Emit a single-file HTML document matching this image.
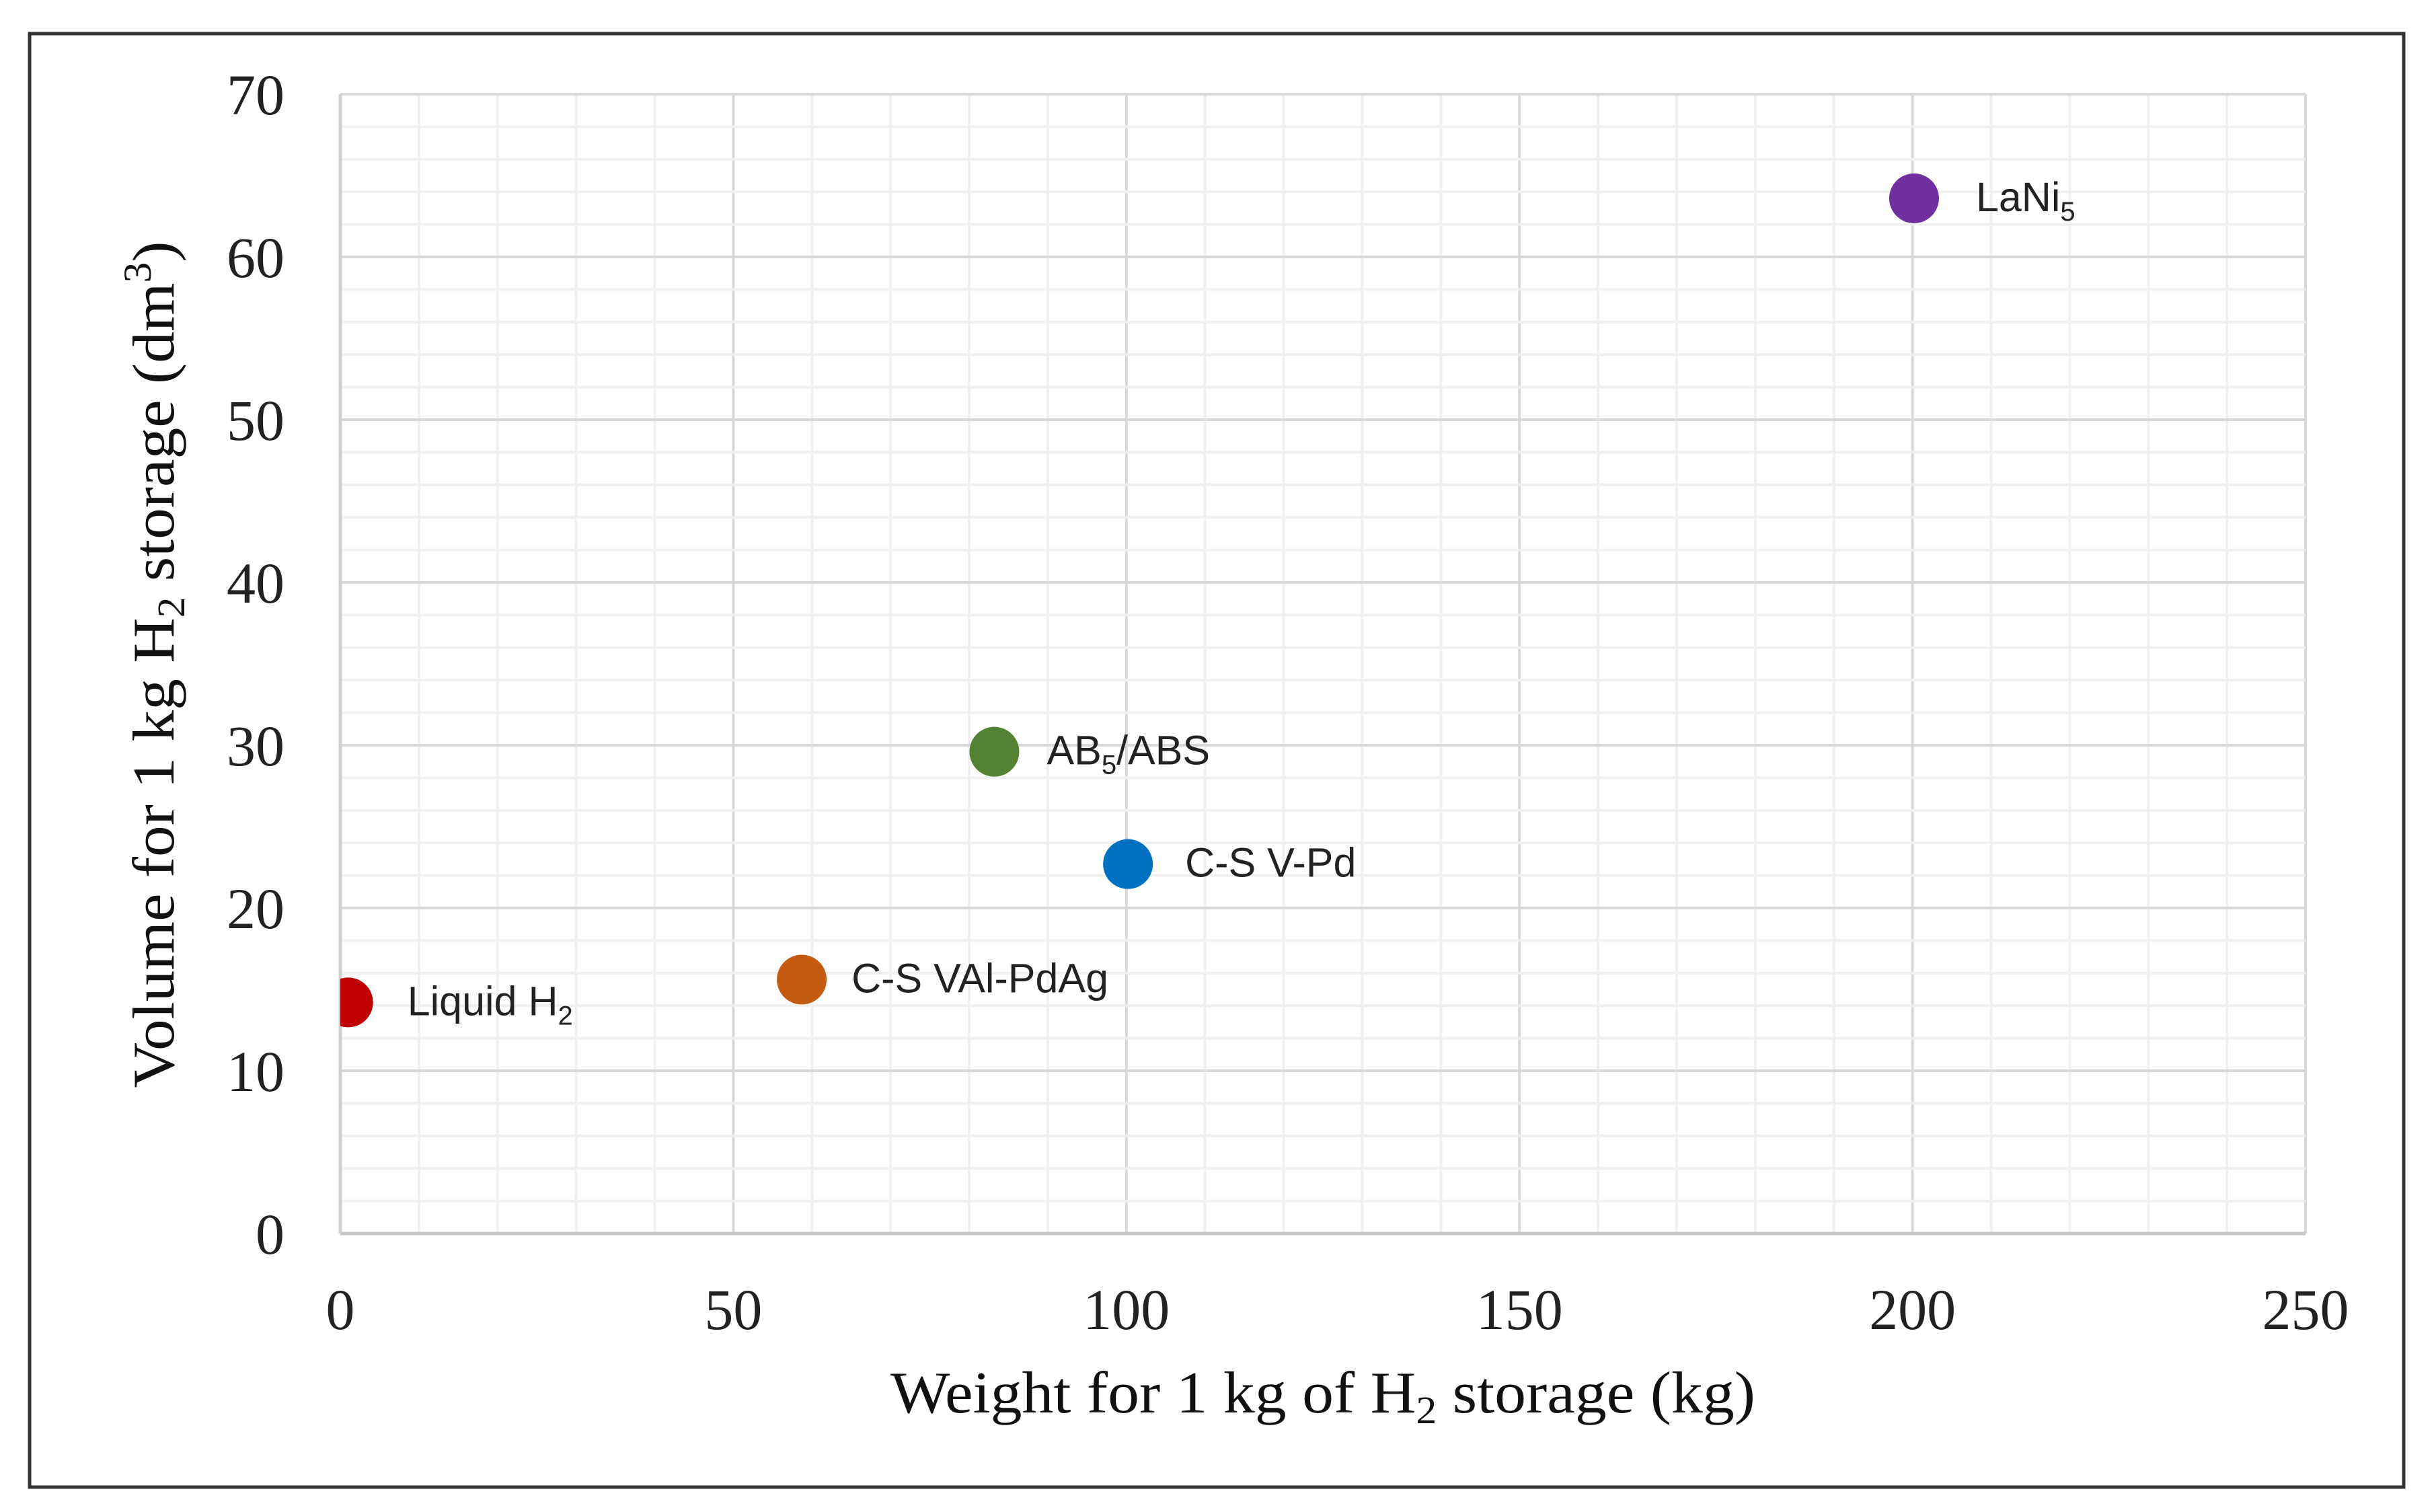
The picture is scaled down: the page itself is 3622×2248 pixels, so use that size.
<!DOCTYPE html>
<html><head><meta charset="utf-8"><style>
html,body{margin:0;padding:0;background:#fff;}
svg{display:block;}
</style></head><body>
<svg id="chart" width="3622" height="2248" viewBox="0 0 3622 2248" xmlns="http://www.w3.org/2000/svg">
<rect x="0" y="0" width="3622" height="2248" fill="#fff"/>
<rect x="44" y="50" width="3530" height="2161" fill="none" stroke="#333" stroke-width="5"/>
<g id="grid"></g>
<g id="axes"></g>
<g id="ticks"></g>
<g id="points"></g>
<text x="1967" y="2100" text-anchor="middle" font-family="Liberation Serif, serif" font-size="88" fill="#111" textLength="1286" lengthAdjust="spacingAndGlyphs">Weight for 1 kg of H<tspan font-size="58" dy="16">2</tspan><tspan dy="-16"> storage (kg)</tspan></text>
<text transform="translate(258,988) rotate(-90)" x="0" y="0" text-anchor="middle" font-family="Liberation Serif, serif" font-size="88" fill="#111" textLength="1259" lengthAdjust="spacingAndGlyphs">Volume for 1 kg H<tspan font-size="58" dy="16">2</tspan><tspan dy="-16"> storage (dm</tspan><tspan font-size="58" dy="-34">3</tspan><tspan dy="34">)</tspan></text>
</svg>
<script>
const labels = ["Liquid H", "C-S VAl-PdAg", "AB", "C-S V-Pd", "LaNi"];
const xValues = [1.0, 58.7, 83.2, 100.2, 200.2];
const yValues = [14.2, 15.6, 29.6, 22.7, 63.6];
const colors = ["#c00000", "#c55a11", "#548235", "#0070c0", "#7030a0"];
const xTicks = [0, 50, 100, 150, 200, 250];
const yTicks = [0, 10, 20, 30, 40, 50, 60, 70];

const NS = "http://www.w3.org/2000/svg";
const L = 506, R = 3428, T = 140, B = 1834;
const xMax = 250, yMax = 70;
function sx(v){ return L + (R - L) * v / xMax; }
function sy(v){ return B - (B - T) * v / yMax; }
function mk(tag, attrs, parent){ const e = document.createElementNS(NS, tag); for (const k in attrs) e.setAttribute(k, attrs[k]); parent.appendChild(e); return e; }

const grid = document.getElementById('grid');
for (let v = 0; v <= xMax; v += 10) {
  const major = v % 50 === 0;
  const ln = mk('line', {x1: sx(v), x2: sx(v), y1: T, y2: B, stroke: major ? '#d9d9d9' : '#f0f0f0', 'stroke-width': 4}, grid);
  
  
}
for (let v = 0; v <= yMax; v += 2) {
  const major = v % 10 === 0;
  const ln = mk('line', {x1: L, x2: R, y1: sy(v), y2: sy(v), stroke: major ? '#d9d9d9' : '#f0f0f0', 'stroke-width': 4}, grid);
  
  
}
const axes = document.getElementById('axes');
const xa = mk('line', {x1: L, x2: R, y1: B, y2: B, stroke: '#c8c8c8', 'stroke-width': 5}, axes);


const ya = mk('line', {x1: L, x2: L, y1: T, y2: B, stroke: '#d0d0d0', 'stroke-width': 5}, axes);



const ticks = document.getElementById('ticks');
xTicks.forEach(v => {
  const t = mk('text', {x: sx(v), y: 1976, 'text-anchor': 'middle', 'font-family': 'Liberation Serif, serif', 'font-size': 86, fill: '#222'}, ticks);
  t.textContent = v;
  
  
});
yTicks.forEach(v => {
  const t = mk('text', {x: 423, y: sy(v) + 30, 'text-anchor': 'end', 'font-family': 'Liberation Serif, serif', 'font-size': 86, fill: '#222'}, ticks);
  t.textContent = v;
  
  
});

const pts = document.getElementById('points');
const defs = mk('defs', {}, pts);
const cp = mk('clipPath', {id: 'plotclip'}, defs);
mk('rect', {x: L, y: T, width: R - L, height: B - T}, cp);
const offsets = [88, 74, 78, 85, 92];
const subs = ["2", "", "5", "", "5"];
const tails = ["", "", "/ABS", "", ""];
labels.forEach((lab, i) => {
  const cx = sx(xValues[i]), cy = sy(yValues[i]);
  const c = mk('circle', {cx: cx, cy: cy, r: 37, fill: colors[i], 'clip-path': 'url(#plotclip)'}, pts);
  
  
  const t = mk('text', {x: cx + offsets[i], y: cy + 19, 'font-family': 'Liberation Sans, sans-serif', 'font-size': 61, fill: '#222'}, pts);
  
  
  t.appendChild(document.createTextNode(lab));
  if (subs[i]) {
    const s = mk('tspan', {'font-size': 40, dy: 14}, t);
    s.textContent = subs[i];
    if (tails[i]) { const s2 = mk('tspan', {dy: -14}, t); s2.textContent = tails[i]; }
  }
});
</script>
</body></html>
